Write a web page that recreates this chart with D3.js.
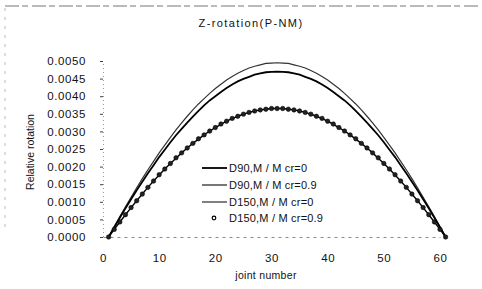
<!DOCTYPE html>
<html>
<head>
<meta charset="utf-8">
<script src="https://cdn.jsdelivr.net/npm/d3@7"></script>
<style>
  body { margin: 0; background: #fff; }
  text { font-family: "Liberation Sans", Arial, sans-serif; fill: #111; }
</style>
</head>
<body>
<svg id="chart" width="482" height="289"></svg>
<script>
// joint numbers 1..61
var joints = d3.range(1, 62);

// values (symmetric about joint 31)
var d90_0 = [0, 0.000277, 0.000548, 0.000814, 0.00107, 0.00133, 0.00157, 0.00181, 0.00204, 0.00227,
    0.00248, 0.00269, 0.00289, 0.00307, 0.00325, 0.00342, 0.00358, 0.00374, 0.00388, 0.00400,
    0.00412, 0.00423, 0.00433, 0.00442, 0.00449, 0.00455, 0.00461, 0.00465, 0.00468, 0.00469,
    0.00470,
    0.00469, 0.00468, 0.00465, 0.00461, 0.00455, 0.00449, 0.00442, 0.00433, 0.00423, 0.00412,
    0.00400, 0.00388, 0.00374, 0.00358, 0.00342, 0.00325, 0.00307, 0.00289, 0.00269, 0.00248,
    0.00227, 0.00204, 0.00181, 0.00157, 0.00133, 0.00107, 0.000814, 0.000548, 0.000277, 0];

var d90_09 = [0, 0.000292, 0.000578, 0.000857, 0.00113, 0.00140, 0.00166, 0.00191, 0.00215, 0.00239,
    0.00261, 0.00283, 0.00304, 0.00324, 0.00343, 0.00361, 0.00378, 0.00393, 0.00408, 0.00422,
    0.00434, 0.00446, 0.00456, 0.00465, 0.00473, 0.00480, 0.00485, 0.00489, 0.00493, 0.00494,
    0.00495,
    0.00494, 0.00493, 0.00489, 0.00485, 0.00480, 0.00473, 0.00465, 0.00456, 0.00446, 0.00434,
    0.00422, 0.00408, 0.00393, 0.00378, 0.00361, 0.00343, 0.00324, 0.00304, 0.00283, 0.00261,
    0.00239, 0.00215, 0.00191, 0.00166, 0.00140, 0.00113, 0.000857, 0.000578, 0.000292, 0];

var d150_0 = [0, 0.000215, 0.000426, 0.000632, 0.000834, 0.00103, 0.00122, 0.00141, 0.00159, 0.00176,
    0.00193, 0.00209, 0.00224, 0.00239, 0.00253, 0.00266, 0.00278, 0.00290, 0.00301, 0.00311,
    0.00320, 0.00329, 0.00336, 0.00343, 0.00349, 0.00354, 0.00358, 0.00361, 0.00363, 0.00365,
    0.00365,
    0.00365, 0.00363, 0.00361, 0.00358, 0.00354, 0.00349, 0.00343, 0.00336, 0.00329, 0.00320,
    0.00311, 0.00301, 0.00290, 0.00278, 0.00266, 0.00253, 0.00239, 0.00224, 0.00209, 0.00193,
    0.00176, 0.00159, 0.00141, 0.00122, 0.00103, 0.000834, 0.000632, 0.000426, 0.000215, 0];

var d150_09 = [0, 0.000216, 0.000428, 0.000634, 0.000836, 0.00103, 0.00122, 0.00141, 0.00159, 0.00177,
    0.00193, 0.00209, 0.00225, 0.00239, 0.00253, 0.00266, 0.00279, 0.00290, 0.00301, 0.00311,
    0.00321, 0.00329, 0.00337, 0.00343, 0.00349, 0.00354, 0.00358, 0.00361, 0.00363, 0.00365,
    0.00365,
    0.00365, 0.00363, 0.00361, 0.00358, 0.00354, 0.00349, 0.00343, 0.00337, 0.00329, 0.00321,
    0.00311, 0.00301, 0.00290, 0.00279, 0.00266, 0.00253, 0.00239, 0.00225, 0.00209, 0.00193,
    0.00177, 0.00159, 0.00141, 0.00122, 0.00103, 0.000836, 0.000634, 0.000428, 0.000216, 0];

var seriesNames = ["D90,M / M cr=0", "D90,M / M cr=0.9", "D150,M / M cr=0", "D150,M / M cr=0.9"];
var xTicks = [0, 10, 20, 30, 40, 50, 60];
var yTicks = d3.range(0, 11).map(function (i) { return i * 0.0005; });

var svg = d3.select("#chart");

var x = d3.scaleLinear().domain([0, 60]).range([103, 440]);
var y = d3.scaleLinear().domain([0, 0.005]).range([237, 61]);

// faint dashed outer frame
svg.append("line").attr("x1", 5).attr("y1", 6).attr("x2", 480).attr("y2", 6)
    .attr("stroke", "#777").attr("stroke-width", 1).attr("stroke-dasharray", "14,3,6,4");
svg.append("line").attr("x1", 5).attr("y1", 8).attr("x2", 5).attr("y2", 232)
    .attr("stroke", "#bbb").attr("stroke-width", 1).attr("stroke-dasharray", "3,6");

// title
svg.append("text").attr("x", 251).attr("y", 27).attr("text-anchor", "middle")
    .style("font-size", "11px").style("letter-spacing", "1.4px").text("Z-rotation(P-NM)");

// y axis
var yAxis = d3.axisLeft(y).tickValues(yTicks).tickSize(3).tickPadding(14)
    .tickFormat(d3.format(".4f"));
var gy = svg.append("g").attr("transform", "translate(103,0)").call(yAxis);
gy.select(".domain").attr("stroke", "#999").attr("stroke-dasharray", "1,3");
gy.selectAll(".tick line").attr("stroke", "#444");
gy.selectAll("text").style("font-size", "11.5px").style("letter-spacing", "0.6px")
    .style("font-family", "Liberation Sans, Arial, sans-serif").attr("fill", "#111");

// x axis
var xAxis = d3.axisBottom(x).tickValues(xTicks).tickSize(0).tickPadding(17);
var gx = svg.append("g").attr("transform", "translate(0,237)").call(xAxis);
gx.select(".domain").attr("stroke", "#888").attr("stroke-dasharray", "3,4");
gx.selectAll("text").style("font-size", "11.5px").style("letter-spacing", "0.6px")
    .style("font-family", "Liberation Sans, Arial, sans-serif").attr("fill", "#111");

// axis titles
svg.append("text").attr("x", 266).attr("y", 279).attr("text-anchor", "middle")
    .style("font-size", "10.5px").style("letter-spacing", "0.3px").text("joint number");
svg.append("text").attr("transform", "translate(34,152) rotate(-90)").attr("text-anchor", "middle")
    .style("font-size", "10.5px").text("Relative rotation");

var line = d3.line()
    .x(function (d, i) { return x(joints[i]); })
    .y(function (d) { return y(d); });

// D90 M/Mcr=0.9 (gray double-ish line)
svg.append("path").datum(d90_09).attr("d", line).attr("fill", "none")
    .attr("stroke", "#333").attr("stroke-width", 1.2);
// D90 M/Mcr=0
svg.append("path").datum(d90_0).attr("d", line).attr("fill", "none")
    .attr("stroke", "#000").attr("stroke-width", 1.8);
// D150 M/Mcr=0
svg.append("path").datum(d150_0).attr("d", line).attr("fill", "none")
    .attr("stroke", "#000").attr("stroke-width", 1.4);
// D150 M/Mcr=0.9 markers
svg.append("g").selectAll("circle").data(d150_09).enter().append("circle")
    .attr("cx", function (d, i) { return x(joints[i]); })
    .attr("cy", function (d) { return y(d); })
    .attr("r", 2.2).attr("fill", "#222").attr("stroke", "#000").attr("stroke-width", 0.6);

// legend
var legY = [168, 185, 202, 218];
var leg = svg.append("g");
var styles = [
    { w: 1.8, c: "#000" },
    { w: 1.6, c: "#555" },
    { w: 1, c: "#000" }
];
for (var i = 0; i < seriesNames.length; i++) {
    if (i < 3) {
        leg.append("line").attr("x1", 202).attr("x2", 227).attr("y1", legY[i]).attr("y2", legY[i])
            .attr("stroke", styles[i].c).attr("stroke-width", styles[i].w);
    } else {
        leg.append("circle").attr("cx", 214).attr("cy", legY[i]).attr("r", 1.8)
            .attr("fill", "#fff").attr("stroke", "#000").attr("stroke-width", 1.2);
    }
    leg.append("text").attr("x", 229).attr("y", legY[i] + 4)
        .style("font-size", "11px").style("letter-spacing", "0.2px").text(seriesNames[i]);
}
</script>
</body>
</html>
